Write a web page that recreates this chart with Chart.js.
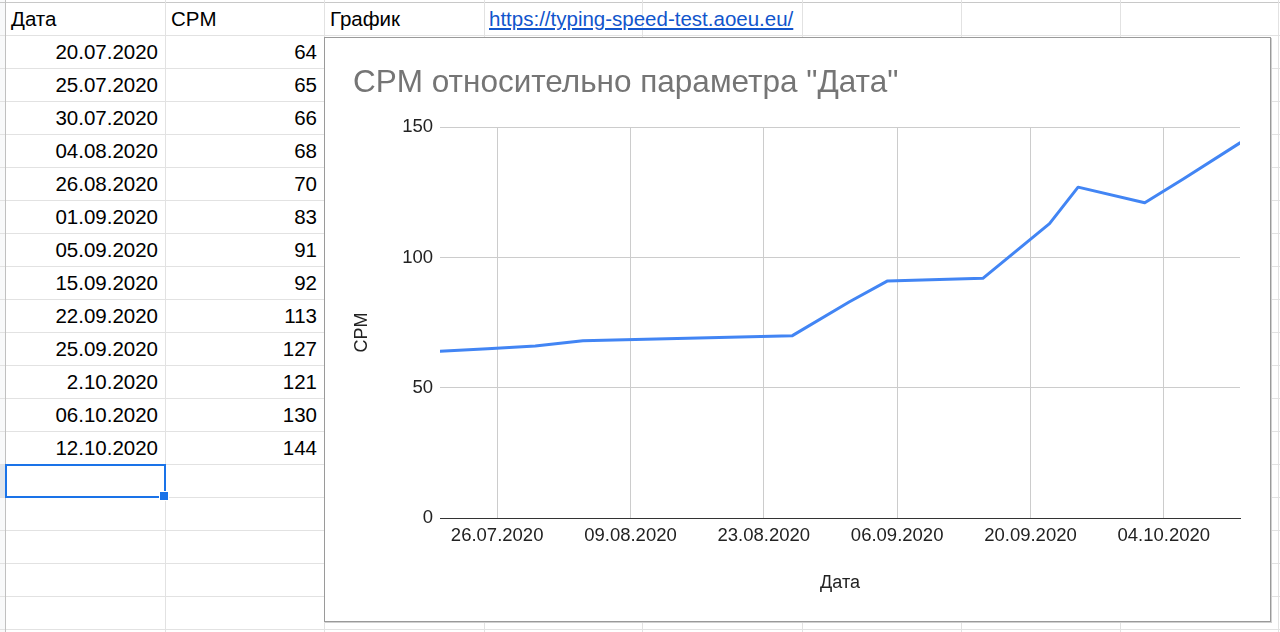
<!DOCTYPE html>
<html>
<head>
<meta charset="utf-8">
<style>
  body { margin: 0; background: #fff; width: 1280px; height: 632px; overflow: hidden; position: relative;
         font-family: "Liberation Sans", Arial, sans-serif; }
  .hl { position: absolute; left: 0; width: 1280px; height: 1px; background: #e2e2e2; }
  .vl { position: absolute; top: 0; height: 632px; width: 1px; background: #e2e2e2; }
  .cell { position: absolute; height: 33px; line-height: 34px; font-size: 20.5px; color: #000; white-space: nowrap; box-sizing: border-box; }
  .num { text-align: right; padding-right: 7px; }
  .txt { padding-left: 6px; }
  #chartBox { position: absolute; left: 324px; top: 37px; width: 947px; height: 585px; background: #fff;
              border: 1px solid #9a9a9a; box-sizing: border-box; box-shadow: 1px 1px 0 #d0d0d0; }
  #c { position: absolute; left: 353px; top: 38px; }
</style>
<script src="https://cdn.jsdelivr.net/npm/chart.js@4/dist/chart.umd.min.js"></script>
</head>
<body>
<div id="sheet"></div>
<div id="chartBox"></div>
<canvas id="c" width="917" height="583"></canvas>

<script>
    // table / chart data
    var dates = ["20.07.2020", "25.07.2020", "30.07.2020", "04.08.2020", "26.08.2020", "01.09.2020", "05.09.2020",
                 "15.09.2020", "22.09.2020", "25.09.2020", "2.10.2020", "06.10.2020", "12.10.2020"];
    var cpm = [64, 65, 66, 68, 70, 83, 91, 92, 113, 127, 121, 130, 144];

    var tickDates = ["26.07.2020", "09.08.2020", "23.08.2020", "06.09.2020", "20.09.2020", "04.10.2020"];
    var xRange = ["20.07.2020", "12.10.2020"];
    var yTicks = [0, 50, 100, 150];

    var FONT = '"Liberation Sans", Arial, sans-serif';

    function dayNum(s) {
        var p = s.split('.');
        return Date.UTC(+p[2], +p[1] - 1, +p[0]) / 86400000;
    }

    // spreadsheet grid
    var sheet = document.getElementById('sheet');
    var colX = [5, 165, 324, 484, 642, 802, 961, 1120, 1278];

    function addDiv(cls, css, text) {
        var d = document.createElement('div');
        d.className = cls;
        d.style.cssText = css;
        if (text != null) d.textContent = text;
        sheet.appendChild(d);
        return d;
    }

    addDiv('', 'position:absolute;left:0;top:0;width:5px;height:632px;background:#f8f9fa');
    addDiv('', 'position:absolute;left:0;top:465px;width:5px;height:32px;background:#dfe4ea');
    for (var k = 0; k < 20; k++)
        addDiv('hl', 'top:' + (2 + 33 * k) + 'px;' + (k == 0 ? 'background:#c8c8c8' : ''));
    for (var i = 0; i < colX.length; i++)
        addDiv('vl', 'left:' + colX[i] + 'px;' + (i == 0 ? 'background:#c0c0c0' : ''));

    addDiv('cell txt', 'left:5px;top:2px;width:160px', 'Дата');
    addDiv('cell txt', 'left:165px;top:2px;width:159px', 'CPM');
    addDiv('cell txt', 'left:324px;top:2px;width:160px', 'График');
    addDiv('cell', 'left:489px;top:2px;color:#1155cc;text-decoration:underline', 'https://typing-speed-test.aoeu.eu/');

    for (var r = 0; r < dates.length; r++) {
        var rowTop = 35 + 33 * r;
        addDiv('cell num', 'left:5px;top:' + rowTop + 'px;width:160px', dates[r]);
        addDiv('cell num', 'left:165px;top:' + rowTop + 'px;width:159px', cpm[r]);
    }

    // selected cell
    addDiv('', 'position:absolute;left:5px;top:464px;width:161px;height:34px;border:2px solid #1a73e8;box-sizing:border-box');
    addDiv('', 'position:absolute;left:159px;top:491px;width:8px;height:8px;background:#1a73e8;border:1px solid #fff');

    // chart
    var points = dates.map(function (d, i) { return { x: dayNum(d), y: cpm[i] }; });

    new Chart(document.getElementById('c'), {
        type: 'line',
        data: {
            datasets: [{
                data: points,
                borderColor: '#4285f4',
                borderWidth: 3,
                pointRadius: 0,
                tension: 0,
                fill: false,
                borderJoinStyle: 'round',
                borderCapStyle: 'round'
            }]
        },
        options: {
            responsive: false,
            animation: false,
            layout: { padding: { left: 0, right: 30, top: 0, bottom: 0 } },
            plugins: {
                legend: { display: false },
                tooltip: { enabled: false },
                title: {
                    display: true,
                    text: 'CPM относительно параметра "Дата"',
                    align: 'start',
                    color: '#757575',
                    font: { family: FONT, size: 31.5, weight: 'normal', lineHeight: 1.15 },
                    padding: { top: 27, bottom: 26 }
                }
            },
            scales: {
                x: {
                    type: 'linear',
                    min: dayNum(xRange[0]),
                    max: dayNum(xRange[1]),
                    afterBuildTicks: function (s) {
                        s.ticks = tickDates.map(function (d) { return { value: dayNum(d) }; });
                    },
                    afterFit: function (s) { s.height = 103; },
                    ticks: {
                        callback: function (v, i) { return tickDates[i]; },
                        color: '#222',
                        font: { family: FONT, size: 18.5 },
                        padding: 7,
                        maxRotation: 0,
                        autoSkip: false
                    },
                    grid: { color: '#cccccc', drawTicks: false },
                    border: { display: true, color: '#333', width: 1 },
                    title: {
                        display: true,
                        text: 'Дата',
                        color: '#222',
                        font: { family: FONT, size: 18, lineHeight: 1 },
                        padding: { top: 0, bottom: 29 }
                    }
                },
                y: {
                    min: 0,
                    max: 150,
                    afterBuildTicks: function (s) {
                        s.ticks = yTicks.map(function (v) { return { value: v }; });
                    },
                    afterFit: function (s) { s.width = 87; },
                    ticks: {
                        color: '#222',
                        font: { family: FONT, size: 18.5 },
                        padding: 7
                    },
                    grid: {
                        color: function (c) { return c.tick && c.tick.value === 0 ? '#333' : '#cccccc'; },
                        drawTicks: false
                    },
                    border: { display: false },
                    title: {
                        display: true,
                        text: 'CPM    ',
                        color: '#222',
                        font: { family: FONT, size: 18, lineHeight: 1 },
                        padding: { top: 0.5, bottom: 0 }
                    }
                }
            }
        }
    });
</script>
</body>
</html>
